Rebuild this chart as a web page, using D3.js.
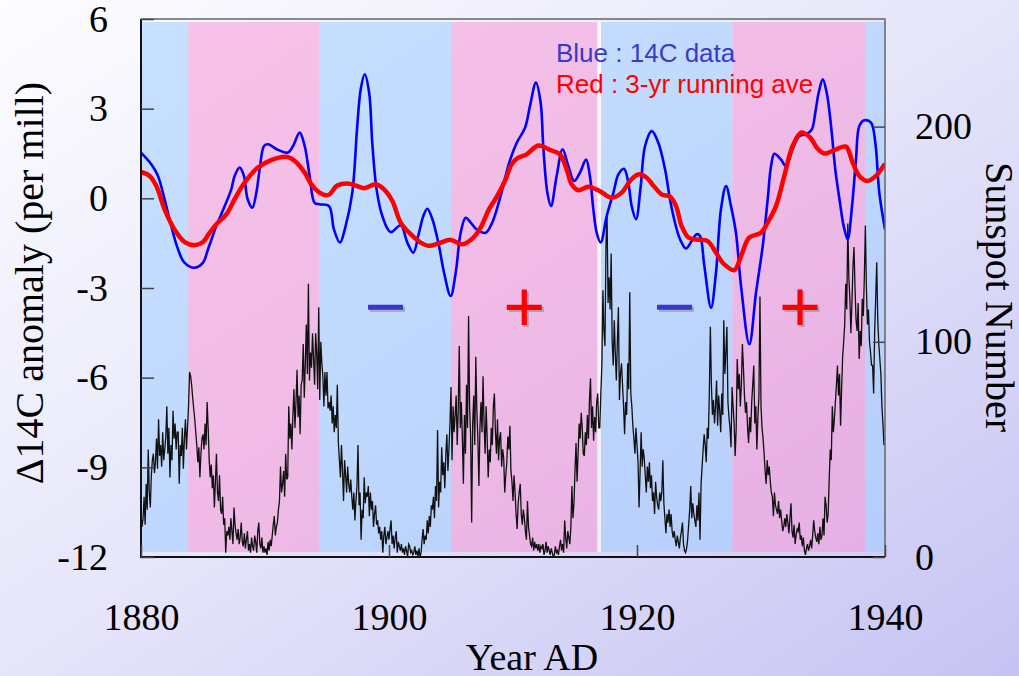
<!DOCTYPE html>
<html lang="en">
<head>
  <meta charset="UTF-8">
  <title>14C anomaly and sunspot number</title>
  <style>
    body { margin: 0; }
    svg { display: block; }
  </style>
</head>
<body>
  <svg id="svg" width="1019" height="676"></svg>
  <script src="https://d3js.org/d3.v7.min.js"></script>
  <script>
    // blue curve: 14C anomaly (per mill)
    const c14Years = [1880.0, 1880.83, 1881.37, 1881.9, 1882.44, 1882.98, 1883.5, 1884.3, 1885.0, 1885.4,
      1886.07, 1886.75, 1887.28, 1887.55, 1887.96, 1888.3, 1888.6, 1888.98, 1889.3, 1889.57,
      1889.92, 1890.24, 1891.05, 1891.85, 1892.26, 1892.8, 1893.2, 1893.6, 1894.0, 1894.4,
      1895.16, 1895.56, 1896.05, 1896.5, 1897.04, 1897.44, 1897.72, 1898.04, 1898.4, 1898.65,
      1899.0, 1899.46, 1900.13, 1900.94, 1901.48, 1901.96, 1902.42, 1902.77, 1903.09, 1903.5,
      1904.03, 1904.44, 1904.97, 1905.38, 1905.78, 1906.18, 1906.59, 1907.12, 1907.8, 1908.33,
      1909.0, 1909.7, 1910.3, 1910.97, 1911.37, 1911.85, 1912.23, 1912.44, 1912.77, 1913.06,
      1913.52, 1914.0, 1914.46, 1914.94, 1915.4, 1915.89, 1916.2, 1916.48, 1916.75, 1917.07,
      1917.56, 1918.1, 1918.5, 1918.95, 1919.3, 1919.57, 1919.92, 1920.3, 1920.65, 1921.19,
      1921.72, 1922.26, 1922.66, 1923.06, 1923.47, 1923.95, 1924.41, 1924.81, 1925.08, 1925.43,
      1925.97, 1926.37, 1926.77, 1927.18, 1927.58, 1927.98, 1928.39, 1929.06, 1929.6, 1930.14,
      1930.54, 1930.81, 1931.08, 1931.6, 1932.0, 1932.55, 1933.09, 1933.63, 1934.1, 1934.38,
      1934.65, 1934.98, 1935.3, 1935.65, 1935.99, 1936.37, 1936.67, 1936.99, 1937.34, 1937.66,
      1937.93, 1938.33, 1938.87, 1939.22, 1939.54, 1940.0]
    const c14Values = [1.53, 1.14, 0.75, -0.03, -0.93, -1.7, -2.15, -2.32, -2.15, -1.71,
      -0.93, -0.26, 0.3, 0.75, 1.03, 0.75, -0.03, -0.31, 0.19, 0.97,
      1.75, 1.81, 1.62, 1.53, 1.75, 2.2, 1.75, 0.75, -0.15, -0.2,
      -0.26, -1.04, -1.48, -0.93, 0.19, 2.42, 3.65, 4.15, 3.53, 1.86,
      0.3, -0.59, -1.13, -0.9, -1.48, -1.82, -1.15, -0.59, -0.35, -0.7,
      -1.59, -2.49, -3.27, -2.49, -1.15, -0.65, -0.81, -1.06, -1.15, -0.81,
      0.08, 1.2, 1.86, 2.36, 3.09, 3.87, 3.2, 1.75, 0.19, -0.26,
      0.75, 1.64, 1.08, 0.58, 0.86, 1.3, 0.75, -0.37, -1.15, -1.48,
      -0.59, 0.19, 0.8, 0.99, 0.53, -0.26, -0.7, 0.41, 1.75, 2.25,
      1.86, 0.97, -0.03, -0.81, -1.37, -1.68, -1.43, -1.2, -1.26, -2.26,
      -3.66, -2.49, -0.37, 0.41, -0.26, -1.15, -2.93, -4.88, -3.15, -1.59,
      -0.03, 1.08, 1.49, 1.3, 1.08, 1.64, 2.08, 2.14, 2.31, 2.87,
      3.53, 3.98, 3.53, 2.42, 0.97, -0.15, -0.93, -1.37, -0.26, 1.3,
      2.42, 2.61, 2.53, 1.86, 0.19, -1.04]

    // red curve: 3-yr running average
    const aveYears = [1880.0, 1880.7, 1881.24, 1881.9, 1882.7, 1883.5, 1884.33, 1885.0, 1885.54, 1886.2,
      1886.88, 1887.55, 1888.36, 1889.43, 1890.5, 1891.72, 1892.4, 1893.2, 1893.73, 1894.4,
      1894.95, 1895.2, 1895.83, 1896.64, 1897.31, 1897.98, 1898.93, 1899.6, 1900.27, 1900.94,
      1901.75, 1902.56, 1903.23, 1904.03, 1904.97, 1905.91, 1906.72, 1907.39, 1908.06, 1908.73,
      1909.41, 1909.9, 1910.43, 1911.1, 1912.04, 1912.98, 1913.79, 1914.33, 1914.73, 1915.27,
      1916.07, 1917.0, 1917.96, 1918.77, 1919.44, 1920.1, 1920.78, 1921.31, 1921.99, 1922.66,
      1923.15, 1923.6, 1924.14, 1924.8, 1925.7, 1926.37, 1927.04, 1927.85, 1928.39, 1929.06,
      1930.0, 1930.54, 1931.21, 1931.88, 1932.55, 1933.23, 1933.9, 1934.57, 1935.1, 1936.05,
      1936.85, 1937.4, 1937.93, 1938.6, 1939.27, 1940.0]
    const aveValues = [0.88, 0.75, 0.41, -0.37, -1.04, -1.46, -1.57, -1.46, -1.15, -0.81,
      -0.54, -0.03, 0.53, 1.03, 1.28, 1.39, 1.25, 0.86, 0.47, 0.19,
      0.1, 0.13, 0.43, 0.5, 0.43, 0.34, 0.47, 0.3, -0.09, -0.81,
      -1.2, -1.48, -1.59, -1.5, -1.39, -1.54, -1.35, -0.98, -0.37, 0.08,
      0.64, 1.15, 1.36, 1.47, 1.77, 1.62, 1.47, 0.97, 0.47, 0.27,
      0.39, 0.24, 0.02, 0.19, 0.58, 0.8, 0.69, 0.43, 0.13, 0.06,
      -0.26, -0.93, -1.31, -1.38, -1.43, -1.82, -2.21, -2.4, -1.93, -1.31,
      -1.15, -0.81, -0.26, 0.75, 1.75, 2.2, 2.06, 1.66, 1.5, 1.64,
      1.73, 1.19, 0.75, 0.58, 0.75, 1.16]

    // black curve: monthly sunspot number, one row per year from 1880
    const sunspotStart = 1880
    const sunspotMonthly = [
      [20, 14, 18, 28, 15, 34, 22, 50, 30, 23, 38, 45],
      [48, 39, 44, 55, 41, 64, 47, 52, 42, 58, 45, 50],
      [56, 70, 48, 60, 37, 52, 45, 68, 55, 62, 50, 58],
      [58, 34, 52, 47, 60, 41, 55, 64, 50, 60, 70, 86],
      [84, 80, 74, 69, 64, 58, 52, 44, 51, 37, 48, 55],
      [57, 50, 62, 52, 72, 60, 45, 37, 43, 32, 38, 23],
      [35, 48, 30, 26, 38, 22, 20, 28, 15, 18, 2, 12],
      [10, 14, 8, 18, 12, 6, 23, 15, 11, 8, 13, 6],
      [9, 16, 7, 5, 11, 4, 8, 12, 3, 6, 2, 9],
      [5, 3, 10, 7, 2, 12, 16, 6, 4, 9, 2, 5],
      [2, 4, 1, 7, 3, 8, 5, 10, 15, 19, 10, 14],
      [16, 22, 26, 42, 30, 34, 40, 28, 48, 36, 37, 70],
      [55, 62, 50, 66, 78, 60, 72, 87, 65, 75, 57, 80],
      [82, 99, 74, 90, 108, 85, 127, 82, 95, 88, 104, 92],
      [80, 104, 95, 78, 116, 73, 100, 90, 84, 70, 86, 75],
      [86, 69, 72, 68, 75, 62, 70, 58, 66, 60, 80, 53],
      [45, 37, 52, 40, 26, 45, 38, 30, 42, 34, 30, 36],
      [28, 22, 30, 17, 26, 33, 52, 24, 30, 8, 22, 18],
      [37, 25, 30, 28, 33, 19, 30, 22, 26, 14, 20, 24],
      [15, 17, 11, 14, 8, 12, 2, 10, 14, 6, 9, 12],
      [8, 13, 17, 6, 10, 4, 9, 12, 2, 7, 5, 3],
      [6, 2, 4, 1, 5, 3, 0, 6, 5, 2, 3, 1],
      [2, 5, 1, 3, 0, 4, 0, 2, 8, 13, 6, 10],
      [8, 17, 11, 19, 14, 24, 22, 28, 18, 33, 26, 59],
      [23, 35, 30, 51, 38, 44, 32, 48, 57, 40, 50, 62],
      [79, 45, 70, 58, 66, 75, 52, 68, 98, 60, 72, 55],
      [34, 66, 48, 80, 60, 112, 70, 56, 16, 62, 75, 52],
      [93, 68, 55, 33, 60, 72, 58, 84, 62, 48, 70, 55],
      [37, 50, 44, 60, 52, 70, 76, 58, 48, 64, 45, 55],
      [58, 42, 50, 46, 30, 38, 44, 56, 50, 61, 40, 35],
      [26, 38, 30, 20, 13, 25, 30, 34, 20, 15, 22, 18],
      [12, 8, 26, 14, 10, 6, 5, 9, 3, 7, 4, 6],
      [3, 6, 2, 5, 4, 6, 1, 3, 7, 2, 5, 3],
      [1, 4, 2, 0, 1, 5, 2, 3, 1, 5, 8, 3],
      [6, 2, 17, 9, 4, 12, 9, 6, 14, 33, 18, 25],
      [40, 53, 35, 48, 62, 55, 67, 60, 48, 47, 58, 52],
      [66, 55, 73, 83, 60, 70, 54, 65, 58, 72, 76, 60],
      [60, 76, 89, 124, 105, 98, 145, 160, 118, 130, 115, 141],
      [100, 89, 110, 95, 82, 100, 116, 73, 85, 90, 80, 70],
      [57, 72, 66, 90, 78, 123, 76, 70, 61, 55, 48, 60],
      [52, 44, 23, 40, 58, 42, 50, 46, 38, 30, 42, 35],
      [44, 32, 38, 26, 30, 20, 35, 28, 24, 22, 30, 26],
      [30, 45, 25, 18, 11, 20, 16, 22, 14, 20, 12, 9],
      [12, 8, 5, 10, 7, 4, 9, 12, 16, 6, 3, 2],
      [4, 8, 15, 22, 33, 18, 25, 20, 17, 14, 24, 17],
      [30, 8, 34, 42, 50, 57, 52, 44, 60, 55, 76, 107],
      [80, 66, 73, 62, 70, 82, 61, 75, 68, 58, 76, 66],
      [110, 85, 95, 107, 72, 65, 60, 51, 79, 70, 62, 47],
      [60, 92, 78, 85, 70, 80, 99, 88, 75, 67, 72, 60],
      [53, 65, 58, 72, 80, 89, 62, 70, 50, 65, 75, 121],
      [70, 60, 55, 48, 40, 34, 45, 38, 42, 35, 30, 28],
      [19, 30, 24, 22, 20, 26, 18, 22, 17, 12, 14, 18],
      [14, 20, 16, 11, 18, 25, 12, 9, 15, 6, 10, 13],
      [12, 16, 8, 10, 5, 9, 3, 1, 4, 6, 3, 5],
      [8, 4, 10, 17, 12, 9, 7, 11, 6, 14, 8, 10],
      [18, 10, 28, 24, 16, 20, 36, 50, 45, 70, 58, 64],
      [72, 80, 89, 75, 85, 61, 78, 93, 100, 108, 127, 115],
      [155, 130, 120, 104, 118, 135, 144, 125, 110, 105, 118, 92],
      [105, 98, 120, 112, 130, 154, 125, 108, 115, 100, 95, 89],
      [89, 76, 105, 120, 137, 110, 99, 92, 85, 70, 62, 52]
    ]

    // shaded polarity bands
    const bandEdges = [1880, 1883.8, 1894.4, 1905.0, 1916.8, 1917.1, 1927.7, 1938.4, 1940]
    const bandKinds = ['blue', 'pink', 'blue', 'pink', 'gap', 'blue', 'pink', 'blue']

    // + / - marks
    const markYears = [1899.7, 1910.9, 1923.0, 1933.15]
    const markSigns = ['\u2212', '+', '\u2212', '+']
    const markLevel = -3.6

    const leftTicks = [-12, -9, -6, -3, 0, 3, 6]
    const rightTicks = [0, 100, 200]
    const yearTicks = [1880, 1900, 1920, 1940]

    const plotLeft = 141, plotRight = 885, plotTop = 19, plotBottom = 557
    const serif = '"Liberation Serif", "Times New Roman", serif'
    const sans = '"Liberation Sans", Arial, sans-serif'

    const svg = d3.select('#svg')

    const defs = svg.append('defs')
    const bg = defs.append('linearGradient').attr('id', 'bg')
      .attr('x1', 0).attr('y1', 0).attr('x2', 1).attr('y2', 1)
    bg.append('stop').attr('offset', 0).attr('stop-color', '#fdfdff')
    bg.append('stop').attr('offset', 0.5).attr('stop-color', '#e6e5fa')
    bg.append('stop').attr('offset', 1).attr('stop-color', '#c6c3f3')
    defs.append('clipPath').attr('id', 'plotclip')
      .append('rect').attr('x', plotLeft).attr('y', plotTop)
      .attr('width', plotRight - plotLeft).attr('height', plotBottom - plotTop)

    svg.append('rect').attr('width', 1019).attr('height', 676).attr('fill', 'url(#bg)')

    const x = d3.scaleLinear().domain([1880, 1940]).range([plotLeft, plotRight])
    const yL = d3.scaleLinear().domain([-12, 6]).range([plotBottom, plotTop])
    const yR = d3.scaleLinear().domain([0, 250]).range([plotBottom, plotTop])

    // bands
    const bandFill = { blue: 'rgb(158,204,255)', pink: 'rgb(246,152,214)', gap: '#ffffff' }
    const bandOpacity = { blue: 0.55, pink: 0.55, gap: 0.6 }
    svg.append('g')
      .selectAll('rect')
      .data(bandKinds)
      .enter()
      .append('rect')
      .attr('x', (d, i) => x(bandEdges[i]))
      .attr('width', (d, i) => x(bandEdges[i + 1]) - x(bandEdges[i]))
      .attr('y', plotTop + 3)
      .attr('height', plotBottom - plotTop - 8)
      .attr('fill', d => bandFill[d])
      .attr('fill-opacity', d => bandOpacity[d])

    // sunspot line
    const sunspots = []
    sunspotMonthly.forEach((row, yi) => {
      row.forEach((v, m) => sunspots.push([sunspotStart + yi + m / 12, v]))
    })
    const plot = svg.append('g').attr('clip-path', 'url(#plotclip)')
    plot.append('path')
      .datum(sunspots)
      .attr('fill', 'none')
      .attr('stroke', '#111')
      .attr('stroke-width', 1.3)
      .attr('d', d3.line().x(d => x(d[0])).y(d => yR(d[1])))

    const c14 = c14Years.map((t, i) => [t, c14Values[i]])
    const ave = aveYears.map((t, i) => [t, aveValues[i]])
    const smooth = d3.line().x(d => x(d[0])).y(d => yL(d[1])).curve(d3.curveCatmullRom.alpha(0.5))

    plot.append('path')
      .datum(c14)
      .attr('fill', 'none')
      .attr('stroke', '#0000ff')
      .attr('stroke-width', 2.6)
      .attr('d', smooth)

    plot.append('path')
      .datum(ave)
      .attr('fill', 'none')
      .attr('stroke', '#ff0000')
      .attr('stroke-width', 4.5)
      .attr('stroke-linejoin', 'round')
      .attr('d', smooth)

    // + and - marks with a soft shadow
    const marks = svg.append('g')
    markSigns.forEach((s, i) => {
      const color = s === '+' ? '#ff0000' : '#3838c8'
      const shadow = marks.append('text').text(s)
        .attr('font-family', sans).attr('font-size', 72)
        .attr('text-anchor', 'middle').attr('fill', '#9a9aa8').attr('opacity', 0.8)
      const t = marks.append('text').text(s)
        .attr('font-family', sans).attr('font-size', 72)
        .attr('text-anchor', 'middle').attr('fill', color)
      t.attr('x', x(markYears[i])).attr('y', 0)
      const bb = t.node().getBBox()
      const cy = yL(markLevel) - (bb.y + bb.height / 2)
      t.attr('y', cy)
      shadow.attr('x', x(markYears[i]) + 2).attr('y', cy + 2)
    })

    // frame
    svg.append('path')
      .attr('d', `M${plotLeft},${plotTop}H${plotRight}V${plotBottom}`)
      .attr('fill', 'none').attr('stroke', '#666').attr('stroke-width', 1.5)
    svg.append('path')
      .attr('d', `M${plotLeft},${plotTop}V${plotBottom}H${plotRight}`)
      .attr('fill', 'none').attr('stroke', '#111').attr('stroke-width', 2)

    // axes
    const styleAxis = g => {
      g.select('.domain').remove()
      g.selectAll('.tick line').attr('stroke', '#444').attr('stroke-width', 1.5)
      g.selectAll('.tick text').attr('font-family', serif).attr('font-size', 38).attr('fill', '#000')
    }
    svg.append('g')
      .attr('transform', `translate(${plotLeft},0)`)
      .call(d3.axisLeft(yL).tickValues(leftTicks).tickSize(-13).tickPadding(33).tickFormat(d => String(d)))
      .call(styleAxis)
    svg.append('g')
      .attr('transform', `translate(${plotRight},0)`)
      .call(d3.axisRight(yR).tickValues(rightTicks).tickSize(-12).tickPadding(30))
      .call(styleAxis)
    svg.append('g')
      .attr('transform', `translate(0,${plotBottom})`)
      .call(d3.axisBottom(x).tickValues(yearTicks).tickSize(-12).tickPadding(46).tickFormat(d3.format('d')))
      .call(styleAxis)

    // axis titles
    svg.append('text')
      .attr('transform', 'translate(43,283) rotate(-90)')
      .attr('text-anchor', 'middle')
      .attr('font-family', serif).attr('font-size', 40)
      .text('\u039414C anomaly (per mill)')
    svg.append('text')
      .attr('transform', 'translate(986,297) rotate(90)')
      .attr('text-anchor', 'middle')
      .attr('font-family', serif).attr('font-size', 40)
      .text('Sunspot Number')
    svg.append('text')
      .attr('x', 532).attr('y', 670)
      .attr('text-anchor', 'middle')
      .attr('font-family', serif).attr('font-size', 38)
      .text('Year AD')

    // legend
    svg.append('text')
      .attr('x', 556).attr('y', 62)
      .attr('font-family', sans).attr('font-size', 26)
      .attr('fill', '#3a3ac8')
      .text('Blue : 14C data')
    svg.append('text')
      .attr('x', 556).attr('y', 93)
      .attr('font-family', sans).attr('font-size', 26)
      .attr('fill', '#ff0000')
      .text('Red : 3-yr running ave')
  </script>
</body>
</html>
